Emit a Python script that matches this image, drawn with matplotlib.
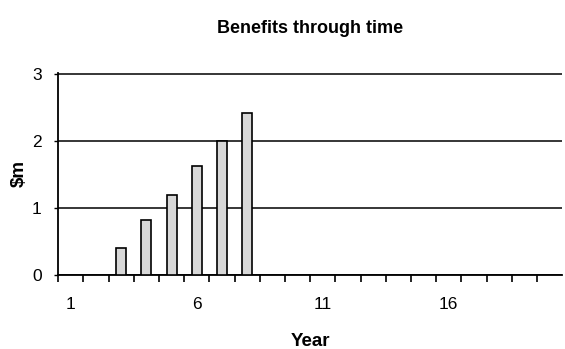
import matplotlib
matplotlib.use('Agg')
import matplotlib.pyplot as plt
from matplotlib.ticker import FixedLocator

plt.rcParams['font.family'] = ['Liberation Sans', 'DejaVu Sans']

# Benefits per year ($m)
years = list(range(1, 21))
benefits = [0, 0, 0.4, 0.82, 1.2, 1.62, 2.0, 2.42] + [0] * 12
year_labels = [1, 6, 11, 16]

fig = plt.figure(figsize=(5.65, 3.49), dpi=100)
ax = fig.add_axes([0.103, 0.212, 0.892, 0.579])

# only draw the years that have a value
xs = [y for y, b in zip(years, benefits) if b > 0]
hs = [b for b in benefits if b > 0]
ax.bar(xs, hs, width=0.4, color='#d8d8d8', edgecolor='black', linewidth=1.2, zorder=3)

ax.set_xlim(0.5, 20.5)
ax.set_ylim(0, 3.015)
ax.set_yticks([0, 1, 2, 3])
ax.yaxis.grid(True, color='black', linewidth=1.1)
ax.set_axisbelow(True)

# category boundaries get tick marks, labels sit between them
ax.xaxis.set_major_locator(FixedLocator([y - 0.5 for y in years]))
ax.xaxis.set_major_formatter(plt.NullFormatter())
ax.xaxis.set_minor_locator(FixedLocator(year_labels))
ax.set_xticklabels([str(y) for y in year_labels], minor=True)
ax.tick_params(axis='x', which='major', direction='out', length=5, width=1.2)
ax.tick_params(axis='x', which='minor', length=0, pad=16, labelsize=12.5)
ax.tick_params(axis='y', direction='out', length=3, width=1, pad=9, labelsize=12.5)

for s in ['top', 'right']:
    ax.spines[s].set_visible(False)
for s in ['left', 'bottom']:
    ax.spines[s].set_linewidth(1.3)

ax.set_title('Benefits through time', fontsize=13, fontweight='bold', pad=29)
ax.set_xlabel('Year', fontsize=13.5, fontweight='bold', labelpad=15)
ax.set_ylabel('$m', fontsize=13.5, fontweight='bold', labelpad=3)

fig.savefig('out.png', dpi=100)
